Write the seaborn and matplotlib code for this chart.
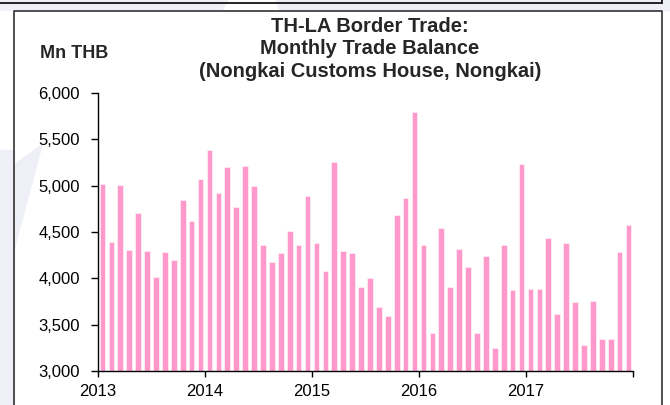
import pandas as pd
import seaborn as sns
import matplotlib.pyplot as plt
from matplotlib.lines import Line2D
from matplotlib.patches import Polygon

# --- data (Mn THB, monthly, Jan 2013 - Dec 2017) ---
years = ['2013', '2014', '2015', '2016', '2017']
balance_2013 = [5020, 4390, 5010, 4310, 4700, 4290, 4010, 4280, 4200, 4840, 4620, 5070]
balance_2014 = [5380, 4920, 5200, 4770, 5210, 5000, 4360, 4180, 4270, 4510, 4360, 4890]
balance_2015 = [4380, 4080, 5260, 4300, 4270, 3910, 4000, 3690, 3590, 4680, 4870, 5800]
balance_2016 = [4360, 3410, 4540, 3910, 4320, 4120, 3410, 4240, 3250, 4360, 3870, 5230]
balance_2017 = [3890, 3880, 4430, 3610, 4380, 3750, 3280, 3760, 3350, 3340, 4280, 4580]

values = balance_2013 + balance_2014 + balance_2015 + balance_2016 + balance_2017
months = [f'{y}-{m:02d}' for y in years for m in range(1, 13)]
df = pd.DataFrame({'month': months, 'balance': values})

sns.set_theme(style='white')
plt.rcParams['font.family'] = ['Liberation Sans', 'DejaVu Sans']

W, H = 670, 405
fig = plt.figure(figsize=(W / 100, H / 100), dpi=100)
ax = fig.add_axes([98 / W, 1 - 371 / H, (633 - 98) / W, (371 - 93) / H])
ax.patch.set_alpha(0)


# faint watermark and frames (figure pixel coords)
def px(x, y):
    return (x / W, 1 - y / H)


lav = '#efeff7'
for pts in ([(0, 0), (228, 0), (222, 10), (0, 10)],
            [(275, 0), (670, 0), (670, 10), (280, 10)],
            [(0, 405), (0, 150), (14, 150), (14, 405)],
            [(14, 250), (14, 165), (42, 145)]):
    fig.patches.append(Polygon([px(*p) for p in pts], closed=True,
                               transform=fig.transFigure, color=lav, zorder=-5))

fig.lines.append(Line2D([0, 662 / W], [1 - 3 / H] * 2, transform=fig.transFigure,
                        color='black', lw=1.2))
fig.lines.append(Line2D([662 / W] * 2, [1, 1 - 3 / H], transform=fig.transFigure,
                        color='black', lw=1.2))
fig.lines.append(Line2D([14 / W, 14 / W, 662 / W, 662 / W], [0, 1 - 11 / H, 1 - 11 / H, 0],
                        transform=fig.transFigure, color='#333333', lw=1.2))

sns.barplot(data=df, x='month', y='balance', color='#ff99cc', saturation=1,
            width=0.64, edgecolor='#fff0f7', linewidth=0.5, ax=ax)

ax.set_ylim(3000, 6000)
ax.set_xlim(-0.5, 59.5)
ax.set_yticks(range(3000, 6001, 500))
ax.set_yticklabels([f'{v:,}' for v in range(3000, 6001, 500)], fontsize=12)
ax.set_xticks([i * 12 - 0.5 for i in range(6)])
ax.set_xticklabels(years + [''], fontsize=12)
ax.set_xlabel('')
ax.set_ylabel('')
ax.tick_params(axis='y', direction='out', length=5, width=1, pad=8, left=True, colors='black')
ax.tick_params(axis='x', direction='out', length=4, width=1, pad=5, bottom=True, colors='black')

sns.despine(ax=ax)
for s in ['left', 'bottom']:
    ax.spines[s].set_color('black')
    ax.spines[s].set_linewidth(1)

fig.text(370 / W, 1 - 49 / H, 'TH-LA Border Trade:\nMonthly Trade Balance\n(Nongkai Customs House, Nongkai)',
         ha='center', va='center', fontsize=14.5, fontweight='bold', linespacing=1.22)
fig.text(74 / W, 1 - 53 / H, 'Mn THB', ha='center', va='center', fontsize=13, fontweight='bold')

fig.savefig('out.png', dpi=100)
